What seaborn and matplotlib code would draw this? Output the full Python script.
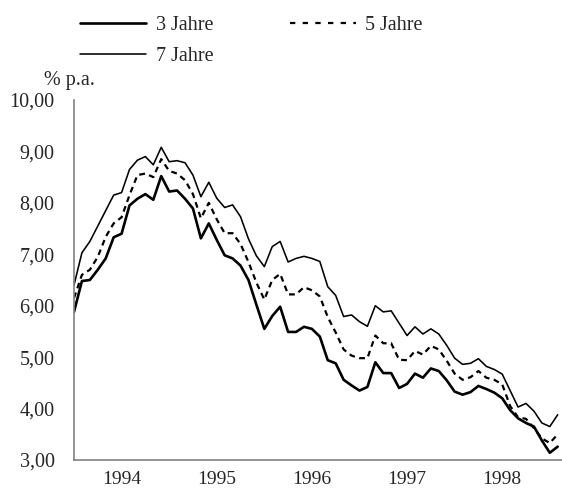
import matplotlib
matplotlib.use("Agg")
import matplotlib.pyplot as plt
from matplotlib.lines import Line2D
from matplotlib.ticker import FixedLocator, NullFormatter
import seaborn as sns
import numpy as np

# Monthly observations, Jan 1994 .. Feb 1999 (index 0..61)
yields_3y = [5.88, 6.48, 6.50, 6.70, 6.92, 7.33, 7.40, 7.95, 8.08, 8.17, 8.06, 8.52,
             8.22, 8.24, 8.08, 7.89, 7.31, 7.60, 7.28, 6.98, 6.92, 6.78, 6.50, 6.02,
             5.55, 5.80, 5.98, 5.49, 5.49, 5.59, 5.55, 5.40, 4.94, 4.88, 4.56, 4.45,
             4.35, 4.42, 4.90, 4.69, 4.69, 4.40, 4.48, 4.68, 4.60, 4.78, 4.73, 4.55,
             4.33, 4.27, 4.32, 4.44, 4.38, 4.31, 4.20, 3.97, 3.81, 3.72, 3.65, 3.38,
             3.14, 3.26]
yields_5y = [6.15, 6.60, 6.70, 6.95, 7.34, 7.60, 7.72, 8.15, 8.54, 8.57, 8.50, 8.85,
             8.62, 8.57, 8.44, 8.17, 7.70, 8.00, 7.68, 7.41, 7.41, 7.20, 6.85, 6.45,
             6.12, 6.50, 6.62, 6.22, 6.22, 6.36, 6.30, 6.18, 5.78, 5.48, 5.15, 5.03,
             4.98, 4.98, 5.42, 5.27, 5.27, 4.95, 4.94, 5.12, 5.05, 5.22, 5.15, 4.93,
             4.68, 4.56, 4.61, 4.73, 4.60, 4.56, 4.47, 4.05, 3.83, 3.80, 3.62, 3.42,
             3.33, 3.50]
yields_7y = [6.40, 7.03, 7.25, 7.55, 7.85, 8.15, 8.20, 8.65, 8.83, 8.90, 8.74, 9.08,
             8.80, 8.82, 8.78, 8.54, 8.12, 8.40, 8.09, 7.91, 7.96, 7.73, 7.30, 6.97,
             6.76, 7.15, 7.25, 6.85, 6.92, 6.96, 6.92, 6.86, 6.37, 6.20, 5.79, 5.82,
             5.69, 5.60, 6.00, 5.88, 5.90, 5.66, 5.42, 5.59, 5.45, 5.55, 5.45, 5.23,
             4.98, 4.86, 4.88, 4.97, 4.82, 4.76, 4.67, 4.35, 4.03, 4.10, 3.95, 3.72,
             3.65, 3.88]
years = ["1994", "1995", "1996", "1997", "1998"]
series_labels = ["3 Jahre", "5 Jahre", "7 Jahre"]
y_ticks = [3, 4, 5, 6, 7, 8, 9, 10]

months = np.arange(len(yields_3y))

sns.set_style("white")
plt.rcParams["font.family"] = ["Liberation Serif", "DejaVu Serif"]

fig = plt.figure(figsize=(5.62, 4.88), dpi=100)
ax = fig.add_axes([74 / 562, 28 / 488, 1 - 74 / 562, 360 / 488])

axis_grey = "#808080"
sns.lineplot(x=months, y=yields_3y, ax=ax, color="black", linewidth=1.9)
sns.lineplot(x=months, y=yields_5y, ax=ax, color="black", linewidth=1.6,
             linestyle=(0, (2.6, 2.0)))
sns.lineplot(x=months, y=yields_7y, ax=ax, color="black", linewidth=1.15)

ax.set_xlim(0, 61.54)
ax.set_ylim(3, 10)
ax.set_yticks(y_ticks)
ax.set_yticklabels([f"{v:.2f}".replace(".", ",") for v in y_ticks])
ax.set_xticks([12 * (k + 1) for k in range(len(years))])
ax.xaxis.set_major_formatter(NullFormatter())
ax.xaxis.set_minor_locator(FixedLocator([12 * k + 6 for k in range(len(years))]))
ax.set_xticklabels(years, minor=True)
ax.tick_params(axis="x", which="minor", length=0, pad=8, labelsize=14)
ax.tick_params(axis="x", which="major", direction="in", length=4, width=1,
               color=axis_grey)
ax.tick_params(axis="y", direction="in", length=4, width=1, color=axis_grey,
               pad=14, labelsize=14.5)
ax.set_xlabel("")
ax.set_ylabel("")

for side in ["top", "right"]:
    ax.spines[side].set_visible(False)
for side in ["left", "bottom"]:
    ax.spines[side].set_color(axis_grey)
    ax.spines[side].set_linewidth(1.2)
ax.grid(False)

fig.text(69 / 562, 1 - 80 / 488, "% p.a.", ha="center", va="center", fontsize=14.5)

handles = [
    Line2D([], [], color="black", linewidth=1.9),
    Line2D([], [], color="black", linewidth=1.15),
    Line2D([], [], color="black", linewidth=1.6, linestyle=(0, (2.4, 3.3))),
]
labels = [series_labels[0], series_labels[2], series_labels[1]]
fig.legend(handles, labels, loc="upper left",
           bbox_to_anchor=(80 / 562, 1 - 16 / 488), ncol=2, frameon=False,
           fontsize=14.5, handlelength=3.3, handletextpad=0.45,
           columnspacing=3.8, labelspacing=0.6, borderpad=0, borderaxespad=0)

fig.savefig("out.png", dpi=100)
